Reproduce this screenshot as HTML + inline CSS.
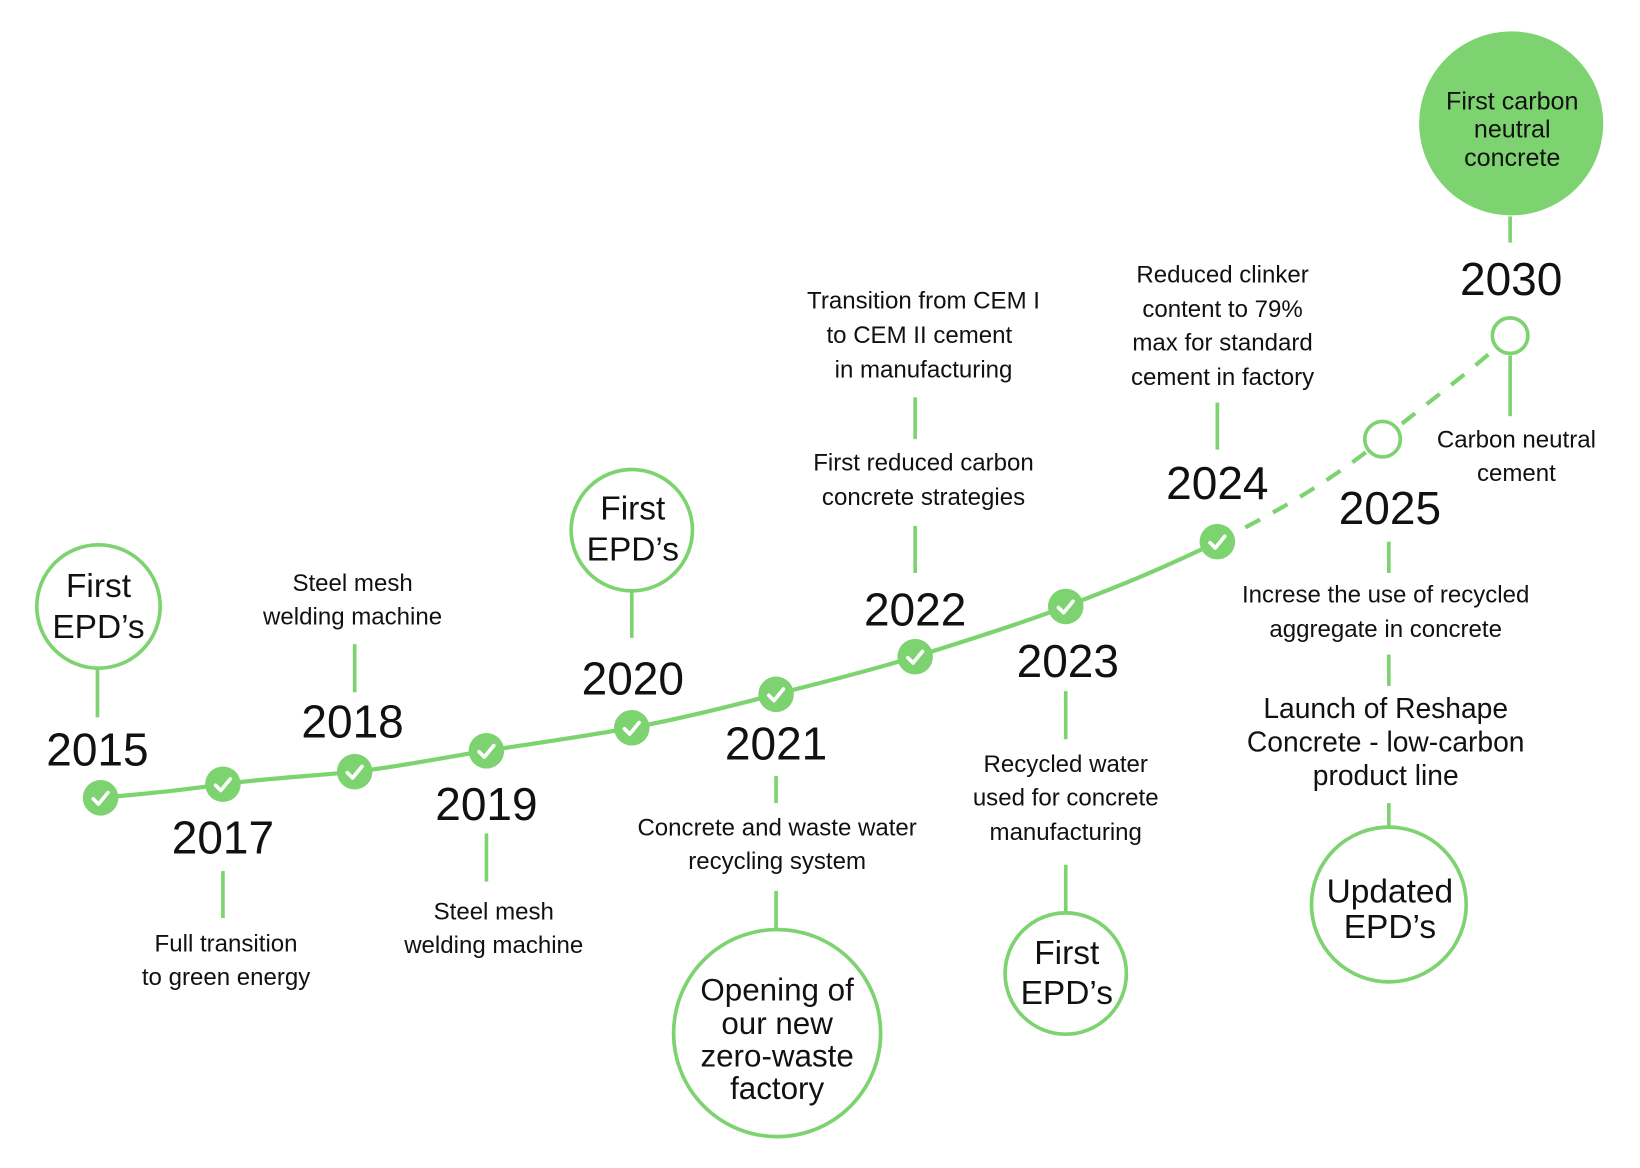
<!DOCTYPE html>
<html><head><meta charset="utf-8"><style>
html,body{margin:0;padding:0;background:#fff;}
svg{display:block}
text{font-family:"Liberation Sans Narrow","Liberation Sans",sans-serif;fill:#111;text-anchor:middle;dominant-baseline:central}
.y{font-size:44px}
.s{font-size:23px}
.m{font-size:27px}
.b{font-size:32px}
</style></head><body>
<svg width="1640" height="1168" viewBox="0 0 1568 1117" xmlns="http://www.w3.org/2000/svg">
<g fill="none" stroke="#7dd36f" stroke-width="3.5">
<path d="M96,763 C150,758 180,755 213,750 S300,742 339,738 S420,725 465,718 S560,704 604,696 S700,675 742,664 S830,642 875,628 S980,595 1019,580 S1110,545 1164,518" stroke-width="4"/>
<path d="M1164,518 C1220,490 1270,462 1322,420 S1400,360 1444,321" stroke-width="4" stroke-dasharray="16,14"/>
<circle cx="1322" cy="420" r="17" fill="#fff"/>
<circle cx="1444" cy="321" r="17" fill="#fff"/>
<line x1="93" y1="640" x2="93" y2="686"/>
<line x1="213" y1="833" x2="213" y2="878"/>
<line x1="339" y1="616" x2="339" y2="662"/>
<line x1="465" y1="797" x2="465" y2="843"/>
<line x1="604" y1="565" x2="604" y2="610"/>
<line x1="742" y1="742" x2="742" y2="768"/>
<line x1="742" y1="852" x2="742" y2="889"/>
<line x1="875" y1="503" x2="875" y2="548"/>
<line x1="875" y1="380" x2="875" y2="420"/>
<line x1="1019" y1="661" x2="1019" y2="707"/>
<line x1="1019" y1="827" x2="1019" y2="873"/>
<line x1="1164" y1="385" x2="1164" y2="430"/>
<line x1="1328" y1="518" x2="1328" y2="548"/>
<line x1="1328" y1="626" x2="1328" y2="656"/>
<line x1="1328" y1="768" x2="1328" y2="791"/>
<line x1="1444" y1="207" x2="1444" y2="232"/>
<line x1="1444" y1="340" x2="1444" y2="398"/>
<circle cx="94" cy="580" r="59"/>
<circle cx="604" cy="507" r="58"/>
<circle cx="743" cy="988" r="99"/>
<circle cx="1019" cy="931" r="58"/>
<circle cx="1328" cy="865" r="74"/>
</g>
<circle cx="1445" cy="118" r="88" fill="#7dd36f"/>
<g fill="#7dd36f">
<circle cx="96" cy="763" r="17"/><circle cx="213" cy="750" r="17"/><circle cx="339" cy="738" r="17"/>
<circle cx="465" cy="718" r="17"/><circle cx="604" cy="696" r="17"/><circle cx="742" cy="664" r="17"/>
<circle cx="875" cy="628" r="17"/><circle cx="1019" cy="580" r="17"/><circle cx="1164" cy="518" r="17"/>
</g>
<g fill="none" stroke="#fff" stroke-width="3.5" stroke-linecap="round" stroke-linejoin="round">
<path d="M89,764 l5,5 l9,-11"/><path d="M206,751 l5,5 l9,-11"/><path d="M332,739 l5,5 l9,-11"/>
<path d="M458,719 l5,5 l9,-11"/><path d="M597,697 l5,5 l9,-11"/><path d="M735,665 l5,5 l9,-11"/>
<path d="M868,629 l5,5 l9,-11"/><path d="M1012,581 l5,5 l9,-11"/><path d="M1157,519 l5,5 l9,-11"/>
</g>
<text class="y" x="93" y="717">2015</text>
<text class="y" x="213" y="801">2017</text>
<text class="y" x="337" y="690">2018</text>
<text class="y" x="465" y="769">2019</text>
<text class="y" x="605" y="649">2020</text>
<text class="y" x="742" y="711">2021</text>
<text class="y" x="875" y="583">2022</text>
<text class="y" x="1021" y="632">2023</text>
<text class="y" x="1164" y="462">2024</text>
<text class="y" x="1329" y="486">2025</text>
<text class="y" x="1445" y="267">2030</text>
<text class="b" x="94" y="561">First</text><text class="b" x="94" y="600">EPD’s</text>
<text class="b" x="605" y="487">First</text><text class="b" x="605" y="526">EPD’s</text>
<text class="b" x="1020" y="912">First</text><text class="b" x="1020" y="950">EPD’s</text>
<text class="b" x="1329" y="853">Updated</text><text class="b" x="1329" y="887">EPD’s</text>
<text class="m" x="743" y="947" style="font-size:30px">Opening of</text>
<text class="m" x="743" y="979" style="font-size:30px">our new</text>
<text class="m" x="743" y="1010" style="font-size:30px">zero-waste</text>
<text class="m" x="743" y="1041" style="font-size:30px">factory</text>
<text class="s" x="1446" y="97" style="font-size:24px">First carbon</text>
<text class="s" x="1446" y="124" style="font-size:24px">neutral</text>
<text class="s" x="1446" y="151" style="font-size:24px">concrete</text>
<text class="s" x="216" y="903">Full transition</text><text class="s" x="216" y="935">to green energy</text>
<text class="s" x="337" y="558">Steel mesh</text><text class="s" x="337" y="590">welding machine</text>
<text class="s" x="472" y="872">Steel mesh</text><text class="s" x="472" y="904">welding machine</text>
<text class="s" x="743" y="792">Concrete and waste water</text><text class="s" x="743" y="824">recycling system</text>
<text class="s" x="883" y="443">First reduced carbon</text><text class="s" x="883" y="476">concrete strategies</text>
<text class="s" x="883" y="288">Transition from CEM I</text><text class="s" x="879" y="321">to CEM II cement</text><text class="s" x="883" y="354">in manufacturing</text>
<text class="s" x="1019" y="731">Recycled water</text><text class="s" x="1019" y="763">used for concrete</text><text class="s" x="1019" y="796">manufacturing</text>
<text class="s" x="1169" y="263">Reduced clinker</text><text class="s" x="1169" y="296">content to 79%</text><text class="s" x="1169" y="328">max for standard</text><text class="s" x="1169" y="361">cement in factory</text>
<text class="s" x="1325" y="569">Increse the use of recycled</text><text class="s" x="1325" y="602">aggregate in concrete</text>
<text class="m" x="1325" y="677">Launch of Reshape</text><text class="m" x="1325" y="709">Concrete - low-carbon</text><text class="m" x="1325" y="741">product line</text>
<text class="s" x="1450" y="421">Carbon neutral</text><text class="s" x="1450" y="453">cement</text>
</svg>
</body></html>
